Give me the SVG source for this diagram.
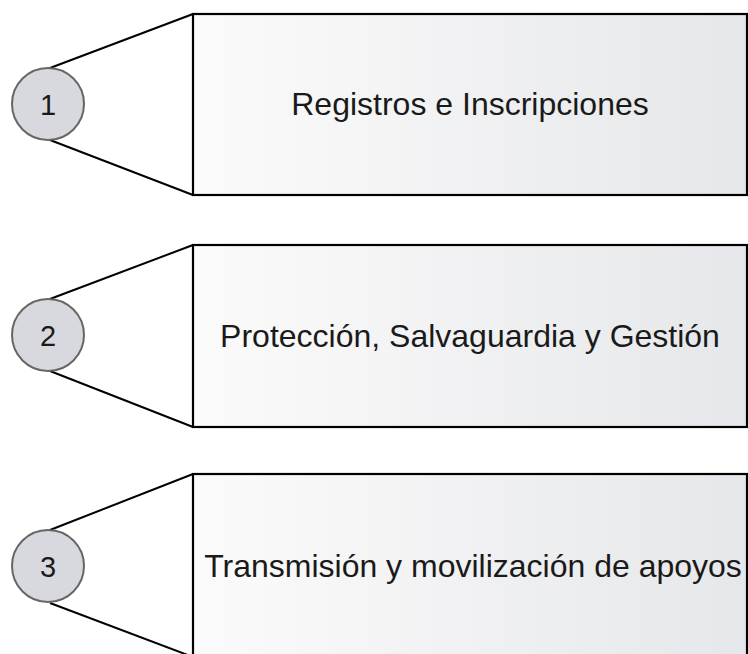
<svg xmlns="http://www.w3.org/2000/svg" width="748" height="654" viewBox="0 0 748 654">
<defs>
<linearGradient id="g" x1="0" y1="0" x2="1" y2="0">
<stop offset="0" stop-color="#fbfbfb"/>
<stop offset="1" stop-color="#e6e7ea"/>
</linearGradient>
<style>
.box{fill:url(#g);stroke:#000;stroke-width:2.2}
.circ{fill:#d8d9de;stroke:#666;stroke-width:2}
.ln{stroke:#000;stroke-width:2;fill:none}
.lbl{font-family:"Liberation Sans",Arial,sans-serif;font-size:32px;fill:#1a1a1a;text-anchor:middle}
.num{font-family:"Liberation Sans",Arial,sans-serif;font-size:29px;fill:#1a1a1a;text-anchor:middle}
</style>
</defs>
<rect width="748" height="654" fill="#fff"/>
<g id="connectors">
<line class="ln" x1="50" y1="68" x2="193" y2="14"/>
<line class="ln" x1="50" y1="140" x2="193" y2="195"/>
<line class="ln" x1="50" y1="299" x2="193" y2="245"/>
<line class="ln" x1="50" y1="371" x2="193" y2="427"/>
<line class="ln" x1="50" y1="530" x2="193" y2="474"/>
<line class="ln" x1="50" y1="603" x2="193" y2="657"/>
</g>
<g id="node1">
<rect class="box" x="193" y="14" width="554" height="181"/>
<text class="lbl" x="470" y="115">Registros e Inscripciones</text>
<circle class="circ" cx="48" cy="104" r="36"/>
<text class="num" x="48" y="115">1</text>
</g>
<g id="node2">
<rect class="box" x="193" y="245" width="554" height="182"/>
<text class="lbl" x="470" y="347">Protección, Salvaguardia y Gestión</text>
<circle class="circ" cx="48" cy="335" r="36"/>
<text class="num" x="48" y="346">2</text>
</g>
<g id="node3">
<rect class="box" x="193" y="474" width="554" height="184"/>
<text class="lbl" x="473" y="577">Transmisión y movilización de apoyos</text>
<circle class="circ" cx="48" cy="566" r="36"/>
<text class="num" x="48" y="577">3</text>
</g>
</svg>
